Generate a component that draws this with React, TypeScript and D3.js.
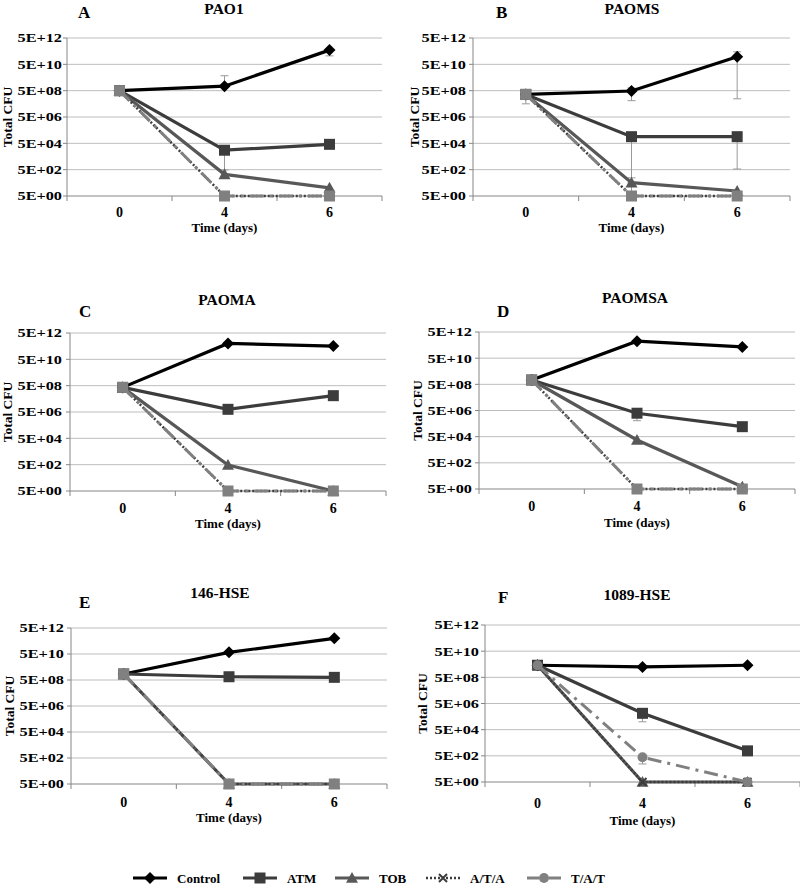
import React from "react";
import * as d3 from "d3";

const days = ["0", "4", "6"];
const panelLetters = ["A", "B", "C", "D", "E", "F"];
const panelTitles = ["PAO1", "PAOMS", "PAOMA", "PAOMSA", "146-HSE", "1089-HSE"];
const seriesNames = ["Control", "ATM", "TOB", "A/T/A", "T/A/T"];
const yTickValues = [5, 5e2, 5e4, 5e6, 5e8, 5e10, 5e12];
const yTickLabels = ["5E+00", "5E+02", "5E+04", "5E+06", "5E+08", "5E+10", "5E+12"];

// values per panel (A..F), per day (0, 4, 6)
const controlValues = [
  [5e8, 1.1e9, 6e11],
  [2.6e8, 4.7e8, 1.9e11],
  [3.7e8, 8.1e11, 5.1e11],
  [1.07e9, 1e12, 3.6e11],
  [1.45e9, 6.7e10, 8e11],
  [4.2e9, 3.1e9, 4.2e9],
];
const atmValues = [
  [5e8, 1.5e4, 4.2e4],
  [2.6e8, 1.6e5, 1.6e5],
  [3.7e8, 8e6, 8.7e7],
  [1.07e9, 3.1e6, 2.9e5],
  [1.45e9, 8.9e8, 8e8],
  [4.2e9, 8.9e5, 1.2e3],
];
const tobValues = [
  [5e8, 220, 21],
  [2.6e8, 51, 12],
  [3.7e8, 470, 5],
  [1.07e9, 2.8e4, 7.5],
  [1.45e9, 5, 5],
  [4.2e9, 5, 5],
];
const ataValues = [
  [5e8, 5, 5],
  [2.6e8, 5, 5],
  [3.7e8, 5, 5],
  [1.07e9, 5, 5],
  [1.45e9, 5, 5],
  [4.2e9, 5, 5],
];
const tatValues = [
  [5e8, 5, 5],
  [2.6e8, 5, 5],
  [3.7e8, 5, 5],
  [1.07e9, 5, 5],
  [1.45e9, 5, 5],
  [4.2e9, 390, 5],
];
// error bars: panel, series index, day index, low, high
const errorBars = [
  { panel: 0, series: 0, day: 1, low: 1.1e9, high: 6.8e9 },
  { panel: 0, series: 0, day: 2, low: 2.2e11, high: 6e11 },
  { panel: 0, series: 1, day: 1, low: 470, high: 1.5e4 },
  { panel: 1, series: 0, day: 0, low: 5e7, high: 2.6e8 },
  { panel: 1, series: 0, day: 1, low: 8.7e7, high: 8e8 },
  { panel: 1, series: 0, day: 2, low: 1.2e8, high: 4.5e11 },
  { panel: 1, series: 1, day: 1, low: 5, high: 1.6e5 },
  { panel: 1, series: 1, day: 2, low: 560, high: 1.6e5 },
  { panel: 1, series: 2, day: 1, low: 51, high: 120 },
  { panel: 3, series: 1, day: 1, low: 8.3e5, high: 3.1e6 },
  { panel: 5, series: 1, day: 1, low: 2e5, high: 8.9e5 },
  { panel: 5, series: 4, day: 1, low: 120, high: 390 },
];

const allSeries = [controlValues, atmValues, tobValues, ataValues, tatValues];

const layouts = [
  { x0: 67, x1: 382, yTop: 38, yBot: 196, letterX: 78, letterY: 18, titleX: 224, titleY: 14, yLabX: 12, tickRight: 62, xLabY: 217, xTitleY: 232 },
  { x0: 473, x1: 790, yTop: 38, yBot: 196, letterX: 496, letterY: 18, titleX: 632, titleY: 14, yLabX: 419, tickRight: 466, xLabY: 217, xTitleY: 232 },
  { x0: 70, x1: 386, yTop: 333, yBot: 491, letterX: 79, letterY: 317, titleX: 227, titleY: 305, yLabX: 12, tickRight: 62, xLabY: 513, xTitleY: 528 },
  { x0: 479, x1: 795, yTop: 332, yBot: 489, letterX: 497, letterY: 317, titleX: 635, titleY: 303, yLabX: 422, tickRight: 472, xLabY: 511, xTitleY: 527 },
  { x0: 71, x1: 387, yTop: 628, yBot: 784, letterX: 79, letterY: 608, titleX: 220, titleY: 598, yLabX: 14, tickRight: 64, xLabY: 807, xTitleY: 822 },
  { x0: 485, x1: 800, yTop: 625, yBot: 782, letterX: 498, letterY: 603, titleX: 637, titleY: 600, yLabX: 427, tickRight: 479, xLabY: 808, xTitleY: 825 },
];

const seriesStyle = [
  { color: "#000000", width: 3.2, dash: "none", marker: "diamond" },
  { color: "#3c3c3c", width: 3.2, dash: "none", marker: "square" },
  { color: "#585858", width: 3.2, dash: "none", marker: "triangle" },
  { color: "#3c3c3c", width: 2.5, dash: "2,2", marker: "x" },
  { color: "#808080", width: 3, dash: "14,6,3,6", marker: "square" },
];

const FONT = "'Liberation Serif', 'Times New Roman', serif";

function Marker({ shape, cx, cy, color }: { shape: string; cx: number; cy: number; color: string }) {
  if (shape === "diamond") {
    const s = 6;
    return <path d={`M${cx},${cy - s}L${cx + s},${cy}L${cx},${cy + s}L${cx - s},${cy}Z`} fill={color} />;
  }
  if (shape === "square") {
    return <rect x={cx - 5.5} y={cy - 5.5} width={11} height={11} fill={color} />;
  }
  if (shape === "triangle") {
    const s = 6;
    return <path d={`M${cx},${cy - s}L${cx + s},${cy + s * 0.8}L${cx - s},${cy + s * 0.8}Z`} fill={color} />;
  }
  if (shape === "circle") {
    return <circle cx={cx} cy={cy} r={5} fill={color} />;
  }
  if (shape === "x") {
    const s = 4;
    return (
      <path d={`M${cx - s},${cy - s}L${cx + s},${cy + s}M${cx - s},${cy + s}L${cx + s},${cy - s}`} stroke={color} strokeWidth={2} />
    );
  }
  return null;
}

function Panel({ idx }: { idx: number }) {
  const L = layouts[idx];
  const x = d3.scaleBand().domain(days).range([L.x0, L.x1]);
  const cx = (d: string) => (x(d) as number) + x.bandwidth() / 2;
  const y = d3.scaleLog().domain([5, 5e12]).range([L.yBot, L.yTop]);
  const line = d3
    .line<number>()
    .x((_, i) => cx(days[i]))
    .y((v) => y(v));
  const bounds = [L.x0, ...days.map((d) => (x(d) as number) + x.bandwidth())];
  return (
    <g>
      <text x={L.letterX} y={L.letterY} fontFamily={FONT} fontWeight="bold" fontSize={17}>
        {panelLetters[idx]}
      </text>
      <text x={L.titleX} y={L.titleY} fontFamily={FONT} fontWeight="bold" fontSize={15.5} textAnchor="middle">
        {panelTitles[idx]}
      </text>
      {yTickValues.map((t, i) => (
        <g key={i}>
          {i > 0 && <line x1={L.x0} x2={L.x1} y1={y(t)} y2={y(t)} stroke="#bdbdbd" strokeWidth={1} />}
          <line x1={L.x0 - 4} x2={L.x0} y1={y(t)} y2={y(t)} stroke="#868686" strokeWidth={1} />
          <text
            x={L.tickRight}
            y={y(t) + 4.5}
            fontFamily={FONT}
            fontWeight="bold"
            fontSize={13}
            textAnchor="end"
            transform={`translate(${L.tickRight},0) scale(1.25,1) translate(${-L.tickRight},0)`}
          >
            {yTickLabels[i]}
          </text>
        </g>
      ))}
      <line x1={L.x0} x2={L.x0} y1={L.yTop} y2={L.yBot} stroke="#868686" strokeWidth={1} />
      <line x1={L.x0} x2={L.x1} y1={L.yBot} y2={L.yBot} stroke="#868686" strokeWidth={1.2} />
      {bounds.map((b, i) => (
        <line key={i} x1={b} x2={b} y1={L.yBot} y2={L.yBot + 5} stroke="#868686" strokeWidth={1} />
      ))}
      {days.map((d) => (
        <text key={d} x={cx(d)} y={L.xLabY} fontFamily={FONT} fontWeight="bold" fontSize={14} textAnchor="middle">
          {d}
        </text>
      ))}
      <text x={(L.x0 + L.x1) / 2} y={L.xTitleY} fontFamily={FONT} fontWeight="bold" fontSize={13} textAnchor="middle">
        Time (days)
      </text>
      <text
        transform={`translate(${L.yLabX},${(L.yTop + L.yBot) / 2}) rotate(-90)`}
        fontFamily={FONT}
        fontWeight="bold"
        fontSize={13.5}
        textAnchor="middle"
      >
        Total CFU
      </text>
      {errorBars
        .filter((e) => e.panel === idx)
        .map((e, i) => {
          const ex = cx(days[e.day]);
          return (
            <g key={i} stroke="#9a9a9a" strokeWidth={1}>
              <line x1={ex} x2={ex} y1={y(e.low)} y2={y(e.high)} />
              <line x1={ex - 4} x2={ex + 4} y1={y(e.low)} y2={y(e.low)} />
              <line x1={ex - 4} x2={ex + 4} y1={y(e.high)} y2={y(e.high)} />
            </g>
          );
        })}
      {allSeries.map((s, si) => {
        const st = seriesStyle[si];
        const vals = s[idx];
        const shape = si === 4 && idx === 5 ? "circle" : st.marker;
        return (
          <g key={si}>
            <path
              d={line(vals) || ""}
              fill="none"
              stroke={st.color}
              strokeWidth={st.width}
              strokeDasharray={st.dash}
            />
            {vals.map((v, i) => (
              <Marker key={i} shape={shape} cx={cx(days[i])} cy={y(v)} color={st.color} />
            ))}
          </g>
        );
      })}
    </g>
  );
}

const legendX = [133, 243, 335, 426, 527];

function Legend() {
  return (
    <g>
      {seriesNames.map((n, i) => {
        const st = seriesStyle[i];
        const lx = legendX[i];
        const ly = 878;
        const shape = i === 4 ? "circle" : st.marker;
        return (
          <g key={n}>
            <line x1={lx} x2={lx + 34} y1={ly} y2={ly} stroke={st.color} strokeWidth={st.width} strokeDasharray={i === 4 ? "12,4,2,4" : st.dash} />
            <Marker shape={shape} cx={lx + 17} cy={ly} color={st.color} />
            <text x={lx + 44} y={ly + 4.5} fontFamily={FONT} fontWeight="bold" fontSize={13}>
              {n}
            </text>
          </g>
        );
      })}
    </g>
  );
}

export default function App() {
  return (
    <svg width={800} height={885} style={{ display: "block", position: "absolute", left: 0, top: 0, background: "#fff" }}>
      <rect width={800} height={885} fill="#fff" />
      {layouts.map((_, i) => (
        <Panel key={i} idx={i} />
      ))}
      <Legend />
    </svg>
  );
}
